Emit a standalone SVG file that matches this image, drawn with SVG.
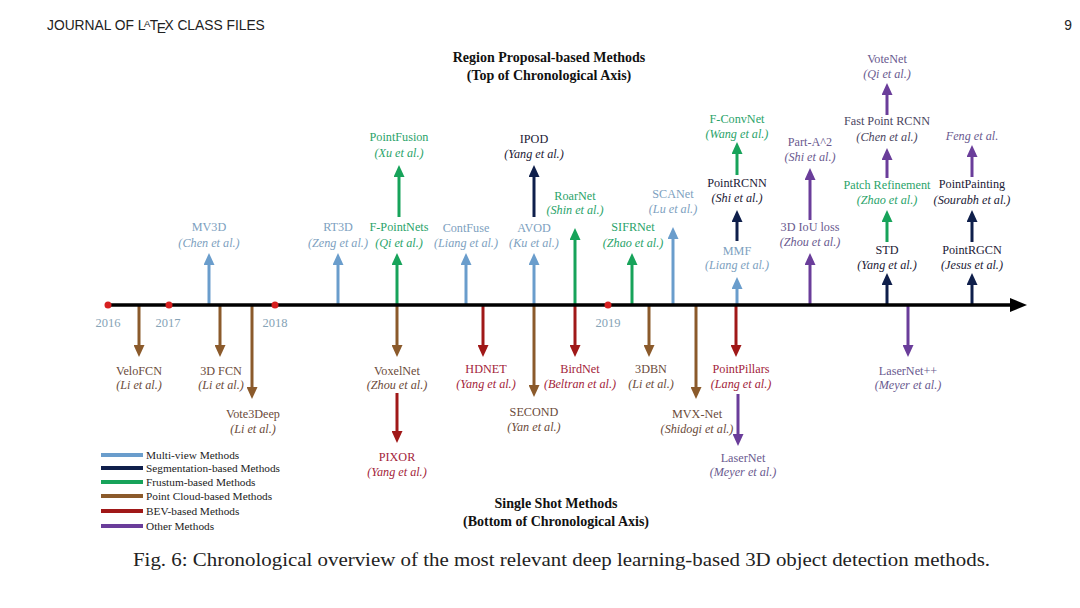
<svg xmlns="http://www.w3.org/2000/svg" width="1080" height="608" viewBox="0 0 1080 608">
<style>
text{font-family:"Liberation Serif","Times New Roman",serif;}
.lab{font-size:12.2px;text-anchor:middle;}
.au{font-size:12.2px;text-anchor:middle;font-style:italic;}
.t-mv{fill:#7d9fc0;}
.t-seg{fill:#1b2035;}
.t-fr{fill:#2aa36a;}
.t-pc{fill:#6b4b3a;}
.t-bev{fill:#a3243a;}
.t-ot{fill:#6a5a8f;}
.t-dk{fill:#4a4560;}
.c{stroke-width:3;fill:none;}
.c-mv{stroke:#6a9dcc;marker-end:url(#m-mv);}
.c-seg{stroke:#0f1f4b;marker-end:url(#m-seg);}
.c-fr{stroke:#17a35a;marker-end:url(#m-fr);}
.c-pc{stroke:#8b5a2b;marker-end:url(#m-pc);}
.c-bev{stroke:#a01818;marker-end:url(#m-bev);}
.c-ot{stroke:#6a3d9a;marker-end:url(#m-ot);}
.yr{font-size:12.5px;fill:#86a3b6;text-anchor:middle;}
.title{font-size:14px;font-weight:bold;text-anchor:middle;fill:#111;}
.leg{font-size:11.3px;fill:#222;}
.ll{stroke-width:4;}
</style>
<defs>
<marker id="m-mv" markerUnits="userSpaceOnUse" markerWidth="12" markerHeight="11" viewBox="0 0 12 11" refX="5" refY="5.5" orient="auto"><path d="M0,0 L12,5.5 L0,11 z" fill="#6a9dcc"/></marker>
<marker id="m-seg" markerUnits="userSpaceOnUse" markerWidth="12" markerHeight="11" viewBox="0 0 12 11" refX="5" refY="5.5" orient="auto"><path d="M0,0 L12,5.5 L0,11 z" fill="#0f1f4b"/></marker>
<marker id="m-fr" markerUnits="userSpaceOnUse" markerWidth="12" markerHeight="11" viewBox="0 0 12 11" refX="5" refY="5.5" orient="auto"><path d="M0,0 L12,5.5 L0,11 z" fill="#17a35a"/></marker>
<marker id="m-pc" markerUnits="userSpaceOnUse" markerWidth="12" markerHeight="11" viewBox="0 0 12 11" refX="5" refY="5.5" orient="auto"><path d="M0,0 L12,5.5 L0,11 z" fill="#8b5a2b"/></marker>
<marker id="m-bev" markerUnits="userSpaceOnUse" markerWidth="12" markerHeight="11" viewBox="0 0 12 11" refX="5" refY="5.5" orient="auto"><path d="M0,0 L12,5.5 L0,11 z" fill="#a01818"/></marker>
<marker id="m-ot" markerUnits="userSpaceOnUse" markerWidth="12" markerHeight="11" viewBox="0 0 12 11" refX="5" refY="5.5" orient="auto"><path d="M0,0 L12,5.5 L0,11 z" fill="#6a3d9a"/></marker>
</defs>
<rect width="1080" height="608" fill="#ffffff"/>

<g id="header">
<text x="47" y="30" style="font-family:'Liberation Sans',Arial,sans-serif;font-size:13.8px;fill:#222;">JOURNAL OF L<tspan font-size="9.5" dx="-1.5" dy="-3">A</tspan><tspan dx="-0.5" dy="3">T</tspan><tspan dx="-1.5" dy="3">E</tspan><tspan dx="-1.5" dy="-3">X CLASS FILES</tspan></text>
<text x="1072" y="30" style="font-family:'Liberation Sans',Arial,sans-serif;font-size:13.8px;fill:#222;text-anchor:end;">9</text>
</g>

<g id="titles">
<text class="title" x="549" y="62">Region Proposal-based Methods</text>
<text class="title" x="549" y="80">(Top of Chronological Axis)</text>
<text class="title" x="556" y="508">Single Shot Methods</text>
<text class="title" x="556" y="526">(Bottom of Chronological Axis)</text>
</g>

<g id="connectors">
<line class="c c-mv" x1="209" y1="305" x2="209" y2="260"/>
<line class="c c-mv" x1="338" y1="305" x2="338" y2="260"/>
<line class="c c-fr" x1="397" y1="305" x2="397" y2="260"/>
<line class="c c-mv" x1="466" y1="305" x2="466" y2="260"/>
<line class="c c-mv" x1="534" y1="305" x2="534" y2="260"/>
<line class="c c-fr" x1="575" y1="305" x2="575" y2="235"/>
<line class="c c-fr" x1="632" y1="305" x2="632" y2="260"/>
<line class="c c-mv" x1="673" y1="305" x2="673" y2="234"/>
<line class="c c-mv" x1="737" y1="305" x2="737" y2="284"/>
<line class="c c-ot" x1="810" y1="305" x2="810" y2="260"/>
<line class="c c-seg" x1="887" y1="305" x2="887" y2="280"/>
<line class="c c-seg" x1="972" y1="305" x2="972" y2="280"/>
<line class="c c-fr" x1="399" y1="217" x2="399" y2="172"/>
<line class="c c-seg" x1="534" y1="217" x2="534" y2="172"/>
<line class="c c-seg" x1="737" y1="241" x2="737" y2="217"/>
<line class="c c-fr" x1="737" y1="175" x2="737" y2="149"/>
<line class="c c-ot" x1="810" y1="220" x2="810" y2="175"/>
<line class="c c-fr" x1="887" y1="242" x2="887" y2="217"/>
<line class="c c-ot" x1="887" y1="178" x2="887" y2="155"/>
<line class="c c-ot" x1="887" y1="115" x2="887" y2="90"/>
<line class="c c-seg" x1="972" y1="242" x2="972" y2="217"/>
<line class="c c-ot" x1="972" y1="177" x2="972" y2="152"/>
<line class="c c-pc" x1="139" y1="305" x2="139" y2="350"/>
<line class="c c-pc" x1="220" y1="305" x2="220" y2="350"/>
<line class="c c-pc" x1="252" y1="305" x2="252" y2="392"/>
<line class="c c-pc" x1="397" y1="305" x2="397" y2="350"/>
<line class="c c-bev" x1="483" y1="305" x2="483" y2="350"/>
<line class="c c-pc" x1="534" y1="305" x2="534" y2="390"/>
<line class="c c-bev" x1="575" y1="305" x2="575" y2="350"/>
<line class="c c-pc" x1="649" y1="305" x2="649" y2="350"/>
<line class="c c-pc" x1="696" y1="305" x2="696" y2="392"/>
<line class="c c-bev" x1="736" y1="305" x2="736" y2="350"/>
<line class="c c-ot" x1="908" y1="305" x2="908" y2="350"/>
<line class="c c-bev" x1="397" y1="393" x2="397" y2="436"/>
<line class="c c-ot" x1="738" y1="394" x2="738" y2="439"/>
</g>

<g id="axis">
<line x1="108" y1="305" x2="1012" y2="305" stroke="#000" stroke-width="3.5"/>
<polygon points="1010,298 1027,305 1010,312" fill="#000"/>
<circle cx="108" cy="305" r="3.5" fill="#d62020"/>
<circle cx="169" cy="305" r="3.5" fill="#d62020"/>
<circle cx="275" cy="305" r="3.5" fill="#d62020"/>
<circle cx="608" cy="305" r="3.5" fill="#d62020"/>
<text class="yr" x="108" y="327">2016</text>
<text class="yr" x="168" y="327">2017</text>
<text class="yr" x="275" y="327">2018</text>
<text class="yr" x="608" y="327">2019</text>
</g>

<g id="n-mv3d"><text class="lab t-mv" x="209" y="231">MV3D</text><text class="au t-mv" x="209" y="247">(Chen et al.)</text></g>
<g id="n-rt3d"><text class="lab t-mv" x="338" y="231">RT3D</text><text class="au t-mv" x="338" y="247">(Zeng et al.)</text></g>
<g id="n-fpointnets"><text class="lab t-fr" x="399" y="231">F-PointNets</text><text class="au t-fr" x="399" y="247">(Qi et al.)</text></g>
<g id="n-pointfusion"><text class="lab t-fr" x="399" y="141">PointFusion</text><text class="au t-fr" x="399" y="157">(Xu et al.)</text></g>
<g id="n-contfuse"><text class="lab t-mv" x="466" y="232">ContFuse</text><text class="au t-mv" x="466" y="247">(Liang et al.)</text></g>
<g id="n-avod"><text class="lab t-mv" x="534" y="232">AVOD</text><text class="au t-mv" x="534" y="247">(Ku et al.)</text></g>
<g id="n-ipod"><text class="lab t-seg" x="534" y="143">IPOD</text><text class="au t-seg" x="534" y="158">(Yang et al.)</text></g>
<g id="n-roarnet"><text class="lab t-fr" x="575" y="200">RoarNet</text><text class="au t-fr" x="575" y="214">(Shin et al.)</text></g>
<g id="n-sifrnet"><text class="lab t-fr" x="633" y="231">SIFRNet</text><text class="au t-fr" x="633" y="247">(Zhao et al.)</text></g>
<g id="n-scanet"><text class="lab t-mv" x="673" y="198">SCANet</text><text class="au t-mv" x="673" y="213">(Lu et al.)</text></g>
<g id="n-mmf"><text class="lab t-mv" x="737" y="255">MMF</text><text class="au t-mv" x="737" y="269">(Liang et al.)</text></g>
<g id="n-pointrcnn"><text class="lab t-seg" x="737" y="187">PointRCNN</text><text class="au t-seg" x="737" y="202">(Shi et al.)</text></g>
<g id="n-fconvnet"><text class="lab t-fr" x="737" y="123">F-ConvNet</text><text class="au t-fr" x="737" y="138">(Wang et al.)</text></g>
<g id="n-3diou"><text class="lab t-ot" x="810" y="231">3D IoU loss</text><text class="au t-ot" x="810" y="246">(Zhou et al.)</text></g>
<g id="n-parta2"><text class="lab t-ot" x="810" y="146">Part-A^2</text><text class="au t-ot" x="810" y="161">(Shi et al.)</text></g>
<g id="n-std"><text class="lab t-seg" x="887" y="254">STD</text><text class="au t-seg" x="887" y="269">(Yang et al.)</text></g>
<g id="n-patchref"><text class="lab t-fr" x="887" y="189">Patch Refinement</text><text class="au t-fr" x="887" y="204">(Zhao et al.)</text></g>
<g id="n-fastpointrcnn"><text class="lab t-dk" x="887" y="125">Fast Point RCNN</text><text class="au t-dk" x="887" y="141">(Chen et al.)</text></g>
<g id="n-votenet"><text class="lab t-ot" x="887" y="63">VoteNet</text><text class="au t-ot" x="887" y="78">(Qi et al.)</text></g>
<g id="n-pointrgcn"><text class="lab t-seg" x="972" y="254">PointRGCN</text><text class="au t-seg" x="972" y="269">(Jesus et al.)</text></g>
<g id="n-pointpainting"><text class="lab t-seg" x="972" y="188">PointPainting</text><text class="au t-seg" x="972" y="204">(Sourabh et al.)</text></g>
<g id="n-feng"><text class="au t-ot" x="972" y="140">Feng et al.</text></g>

<g id="n-velofcn"><text class="lab t-pc" x="139" y="375">VeloFCN</text><text class="au t-pc" x="139" y="389">(Li et al.)</text></g>
<g id="n-3dfcn"><text class="lab t-pc" x="221" y="375">3D FCN</text><text class="au t-pc" x="221" y="389">(Li et al.)</text></g>
<g id="n-vote3deep"><text class="lab t-pc" x="253" y="418">Vote3Deep</text><text class="au t-pc" x="253" y="433">(Li et al.)</text></g>
<g id="n-voxelnet"><text class="lab t-pc" x="397" y="375">VoxelNet</text><text class="au t-pc" x="397" y="389">(Zhou et al.)</text></g>
<g id="n-pixor"><text class="lab t-bev" x="397" y="461">PIXOR</text><text class="au t-bev" x="397" y="476">(Yang et al.)</text></g>
<g id="n-hdnet"><text class="lab t-bev" x="486" y="373">HDNET</text><text class="au t-bev" x="486" y="388">(Yang et al.)</text></g>
<g id="n-second"><text class="lab t-pc" x="534" y="416">SECOND</text><text class="au t-pc" x="534" y="431">(Yan et al.)</text></g>
<g id="n-birdnet"><text class="lab t-bev" x="580" y="373">BirdNet</text><text class="au t-bev" x="580" y="388">(Beltran et al.)</text></g>
<g id="n-3dbn"><text class="lab t-pc" x="651" y="373">3DBN</text><text class="au t-pc" x="651" y="388">(Li et al.)</text></g>
<g id="n-mvxnet"><text class="lab t-pc" x="697" y="418">MVX-Net</text><text class="au t-pc" x="697" y="433">(Shidogi et al.)</text></g>
<g id="n-pointpillars"><text class="lab t-bev" x="741" y="373">PointPillars</text><text class="au t-bev" x="741" y="388">(Lang et al.)</text></g>
<g id="n-lasernet"><text class="lab t-ot" x="743" y="462">LaserNet</text><text class="au t-ot" x="743" y="476">(Meyer et al.)</text></g>
<g id="n-lasernetpp"><text class="lab t-ot" x="908" y="375">LaserNet++</text><text class="au t-ot" x="908" y="389">(Meyer et al.)</text></g>

<g id="legend">
<line class="ll" x1="101" y1="455" x2="143" y2="455" stroke="#6a9dcc"/><text class="leg" x="146" y="459">Multi-view Methods</text>
<line class="ll" x1="101" y1="468" x2="143" y2="468" stroke="#0f1f4b"/><text class="leg" x="146" y="472">Segmentation-based Methods</text>
<line class="ll" x1="101" y1="482" x2="143" y2="482" stroke="#17a35a"/><text class="leg" x="146" y="486">Frustum-based Methods</text>
<line class="ll" x1="101" y1="496" x2="143" y2="496" stroke="#8b5a2b"/><text class="leg" x="146" y="500">Point Cloud-based Methods</text>
<line class="ll" x1="101" y1="511" x2="143" y2="511" stroke="#a01818"/><text class="leg" x="146" y="515">BEV-based Methods</text>
<line class="ll" x1="101" y1="526" x2="143" y2="526" stroke="#6a3d9a"/><text class="leg" x="146" y="530">Other Methods</text>
</g>

<g id="caption">
<text x="133" y="566" style="font-size:18px;fill:#222;" textLength="857" lengthAdjust="spacingAndGlyphs">Fig. 6: Chronological overview of the most relevant deep learning-based 3D object detection methods.</text>
</g>
</svg>
